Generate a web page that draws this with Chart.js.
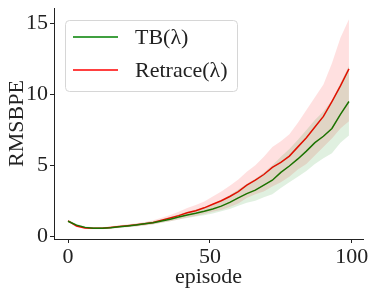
<!DOCTYPE html>
<html>
<head>
<meta charset="utf-8">
<script src="https://cdn.jsdelivr.net/npm/chart.js@4/dist/chart.umd.min.js"></script>
<style>
  html, body { margin: 0; padding: 0; background: #fff; }
</style>
</head>
<body>
<canvas id="rmsbpeChart" width="374" height="294"></canvas>
<script>
// episodes sampled every 3 steps
const episodes = [0, 3, 6, 9, 12, 15, 18, 21, 24, 27, 30, 33, 36, 39, 42, 45, 48, 51, 54, 57, 60, 63, 66, 69, 72, 75, 78, 81, 84, 87, 90, 93, 96, 99];

const tbMean  = [1.05, 0.78, 0.62, 0.56, 0.56, 0.60, 0.66, 0.72, 0.79, 0.87, 0.95, 1.07, 1.20, 1.35, 1.50, 1.62, 1.76, 1.92, 2.12, 2.38, 2.70, 3.00, 3.25, 3.60, 3.95, 4.50, 4.95, 5.45, 6.00, 6.60, 7.05, 7.60, 8.60, 9.50];
const tbUpper = [1.12, 0.86, 0.70, 0.63, 0.63, 0.67, 0.73, 0.80, 0.88, 0.97, 1.07, 1.20, 1.36, 1.53, 1.72, 1.88, 2.06, 2.28, 2.56, 2.90, 3.30, 3.70, 4.05, 4.50, 5.00, 5.60, 6.15, 6.80, 7.50, 8.20, 8.80, 9.60, 10.8, 12.0];
const tbLower = [0.98, 0.70, 0.55, 0.50, 0.50, 0.53, 0.58, 0.63, 0.69, 0.76, 0.84, 0.94, 1.05, 1.17, 1.28, 1.38, 1.48, 1.60, 1.75, 1.92, 2.15, 2.35, 2.50, 2.75, 2.95, 3.40, 3.80, 4.20, 4.60, 5.10, 5.50, 5.85, 6.60, 7.10];

const retMean  = [1.08, 0.72, 0.58, 0.55, 0.56, 0.62, 0.68, 0.74, 0.80, 0.88, 0.97, 1.12, 1.28, 1.45, 1.65, 1.80, 2.00, 2.25, 2.50, 2.80, 3.15, 3.60, 3.95, 4.35, 4.85, 5.20, 5.65, 6.30, 6.95, 7.70, 8.45, 9.50, 10.6, 11.8];
const retUpper = [1.15, 0.82, 0.66, 0.62, 0.63, 0.70, 0.77, 0.84, 0.91, 1.00, 1.12, 1.30, 1.50, 1.72, 1.98, 2.20, 2.45, 2.80, 3.15, 3.55, 4.00, 4.55, 5.00, 5.60, 6.30, 6.70, 7.20, 8.00, 8.90, 9.80, 10.7, 12.2, 14.0, 15.3];
const retLower = [1.00, 0.63, 0.50, 0.48, 0.49, 0.54, 0.59, 0.64, 0.69, 0.76, 0.83, 0.94, 1.06, 1.18, 1.32, 1.42, 1.56, 1.72, 1.85, 2.05, 2.30, 2.70, 2.95, 3.15, 3.50, 3.80, 4.20, 4.70, 5.10, 5.70, 6.30, 6.90, 7.60, 8.10];

const xTicks = [0, 50, 100];
const yTicks = [0, 5, 10, 15];

const pts = arr => arr.map((v, i) => ({ x: episodes[i], y: v }));
const FONT = '"Liberation Serif", "DejaVu Serif", serif';

const band = (arr, fill, color) => ({
  data: pts(arr), fill: fill, backgroundColor: color,
  borderWidth: 0, pointRadius: 0, tension: 0
});
const line = (label, arr, color) => ({
  label: label, data: pts(arr), borderColor: color, backgroundColor: color,
  borderWidth: 1.5, pointRadius: 0, tension: 0, fill: false
});

// boxed legend in the upper left, matplotlib style
const boxLegend = {
  id: 'boxLegend',
  afterDraw(chart) {
    const ctx = chart.ctx;
    const items = chart.data.datasets.filter(d => d.label);
    const x0 = 65.5, y0 = 20.5, w = 172, h = 71;
    ctx.save();
    ctx.fillStyle = 'rgba(255,255,255,0.85)';
    ctx.strokeStyle = '#d6d6d6';
    ctx.lineWidth = 1;
    ctx.beginPath();
    ctx.roundRect(x0, y0, w, h, 4);
    ctx.fill();
    ctx.stroke();
    ctx.font = '22px ' + FONT;
    ctx.textBaseline = 'middle';
    items.forEach((d, i) => {
      const yy = 37 + i * 33;
      ctx.strokeStyle = d.borderColor;
      ctx.lineWidth = 1.5;
      ctx.beginPath();
      ctx.moveTo(73, yy);
      ctx.lineTo(118, yy);
      ctx.stroke();
      ctx.fillStyle = '#222';
      ctx.fillText(d.label, 135, yy + 1);
    });
    ctx.restore();
  }
};

new Chart(document.getElementById('rmsbpeChart'), {
  type: 'line',
  data: {
    datasets: [
      band(tbLower, false, 'rgba(0,128,0,0.12)'),
      band(tbUpper, '-1', 'rgba(0,128,0,0.12)'),
      band(retLower, false, 'rgba(255,0,0,0.12)'),
      band(retUpper, '-1', 'rgba(255,0,0,0.12)'),
      line('TB(λ)', tbMean, '#008000'),
      line('Retrace(λ)', retMean, '#ff0000')
    ]
  },
  options: {
    responsive: false,
    animation: false,
    layout: { padding: { top: 8, right: 11, left: 0, bottom: 0 } },
    plugins: {
      legend: { display: false },
      tooltip: { enabled: false }
    },
    scales: {
      x: {
        type: 'linear', min: -4.95, max: 103.95,
        afterBuildTicks: s => { s.ticks = xTicks.map(v => ({ value: v })); },
        afterFit: s => { s.height = 55; s.paddingLeft = 0; s.paddingRight = 0; },
        grid: { drawOnChartArea: false, drawTicks: true, tickLength: 4, color: '#222' },
        border: { display: true, color: '#222', width: 1 },
        ticks: { color: '#222', font: { family: FONT, size: 22 }, padding: 1, maxRotation: 0 },
        title: { display: true, text: 'episode', color: '#222', font: { family: FONT, size: 22 }, padding: { top: 0 } }
      },
      y: {
        min: -0.2, max: 16.1,
        afterBuildTicks: s => { s.ticks = yTicks.map(v => ({ value: v })); },
        afterFit: s => { s.width = 54; s.paddingTop = 0; s.paddingBottom = 0; },
        grid: { drawOnChartArea: false, drawTicks: true, tickLength: 4, color: '#222' },
        border: { display: true, color: '#222', width: 1 },
        ticks: { color: '#222', font: { family: FONT, size: 22 }, padding: 2 },
        title: { display: true, text: 'RMSBPE', color: '#222', font: { family: FONT, size: 22 }, padding: { bottom: 0 } }
      }
    }
  },
  plugins: [boxLegend]
});
</script>
</body>
</html>
